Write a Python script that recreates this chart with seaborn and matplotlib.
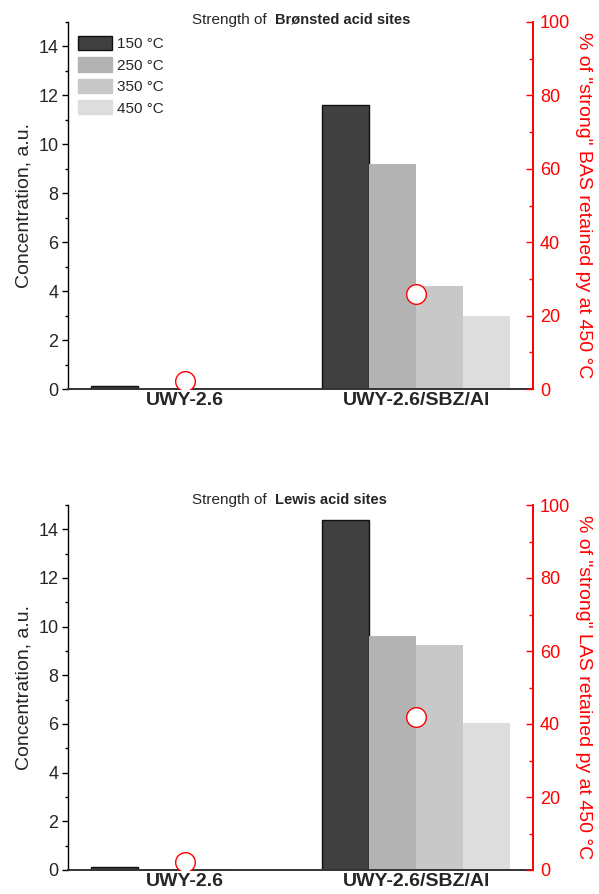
import matplotlib
matplotlib.use("Agg")
import matplotlib.pyplot as plt
from matplotlib.patches import Patch
from matplotlib.ticker import MultipleLocator
import numpy as np
import pandas as pd
import seaborn as sns

# ---- data ----
samples = ["UWY-2.6", "UWY-2.6/SBZ/Al"]
temps = ["150 °C", "250 °C", "350 °C", "450 °C"]

# Brønsted acid sites, concentration (a.u.) per desorption temperature
bas_150 = [0.12, 11.6]
bas_250 = [0.05, 9.2]
bas_350 = [0.04, 4.2]
bas_450 = [0.00, 3.0]
bas_strong_pct = [2.2, 26.0]

# Lewis acid sites, concentration (a.u.) per desorption temperature
las_150 = [0.12, 14.4]
las_250 = [0.05, 9.6]
las_350 = [0.04, 9.25]
las_450 = [0.00, 6.05]
las_strong_pct = [2.2, 42.0]

bar_colors = ["#404040", "#b3b3b3", "#c8c8c8", "#dddddd"]
red = "#ff0000"

sns.set_theme(style="white")
plt.rcParams["font.family"] = ["Liberation Sans", "DejaVu Sans"]
plt.rcParams["axes.linewidth"] = 1.0

W, H = 599, 894
fig = plt.figure(figsize=(W / 100, H / 100), dpi=100)


def rect(left, top, right, bottom):
    return [left / W, 1 - bottom / H, (right - left) / W, (bottom - top) / H]


def long_frame(series):
    rows = []
    for t, vals in zip(temps, series):
        for s, v in zip(samples, vals):
            rows.append({"sample": s, "temp": t, "conc": v})
    return pd.DataFrame(rows)


def panel(box, series, pct, site_abbr, title_bold, title_y, legend):
    ax = fig.add_axes(rect(*box))
    df = long_frame(series)
    sns.barplot(data=df, x="sample", y="conc", hue="temp", order=samples,
                hue_order=temps, palette=bar_colors, width=0.81,
                saturation=1, errorbar=None, legend=False, ax=ax,
                linewidth=0)
    # dark bars carry a thin black outline
    for p in ax.containers[0]:
        p.set_edgecolor("#111111")
        p.set_linewidth(1.0)

    ax.set_xlim(-0.505, 1.505)
    ax.set_ylim(0, 15)
    ax.yaxis.set_major_locator(MultipleLocator(2))
    ax.yaxis.set_minor_locator(MultipleLocator(1))
    ax.tick_params(axis="y", which="major", direction="out", length=4,
                   width=1, labelsize=13, pad=3, left=True, color="black")
    ax.tick_params(axis="y", which="minor", direction="out", length=2.2,
                   width=1, left=True, color="black")
    ax.tick_params(axis="x", length=0, pad=2)
    for lab in ax.get_xticklabels():
        lab.set_fontweight("bold")
        lab.set_fontsize(14)
    ax.set_xlabel("")
    ax.set_ylabel("Concentration, a.u.", fontsize=14, labelpad=4)
    ax.spines["top"].set_visible(False)
    ax.spines["right"].set_visible(False)
    ax.spines["left"].set_color("black")
    ax.spines["bottom"].set_color("#333333")
    ax.spines["bottom"].set_linewidth(1.4)

    ax2 = ax.twinx()
    sns.scatterplot(x=[0, 1], y=pct, ax=ax2, s=200, marker="o",
                    facecolor="white", edgecolor=red, linewidth=1.0,
                    zorder=5, legend=False)
    ax2.set_ylim(0, 100)
    ax2.yaxis.set_major_locator(MultipleLocator(20))
    ax2.yaxis.set_minor_locator(MultipleLocator(10))
    ax2.tick_params(axis="y", which="major", direction="in", length=5,
                    width=1, colors=red, labelsize=13, pad=5, right=True)
    ax2.tick_params(axis="y", which="minor", direction="in", length=3,
                    width=1, colors=red, right=True)
    ax2.set_ylabel(f'% of "strong" {site_abbr} retained py at 450 °C',
                   color=red, fontsize=14, rotation=270, labelpad=16)
    for side in ["top", "left", "bottom"]:
        ax2.spines[side].set_visible(False)
    ax2.spines["right"].set_color(red)
    ax2.spines["right"].set_linewidth(1.4)
    ax2.grid(False)
    ax.grid(False)

    # two-part title: regular lead-in followed by bold subject
    fig.text(192 / W, 1 - title_y / H, "Strength of", fontsize=11,
             ha="left", va="center")
    fig.text(275 / W, 1 - title_y / H, title_bold, fontsize=10.5,
             fontweight="bold", ha="left", va="center")

    if legend:
        handles = [Patch(facecolor=c, edgecolor=("#111111" if i == 0 else c),
                         linewidth=1.0)
                   for i, c in enumerate(bar_colors)]
        ax.legend(handles, temps, loc="upper left",
                  bbox_to_anchor=(10 / 465, 1 - 14 / 367), frameon=False,
                  fontsize=11, handlelength=2.2, handleheight=1.05,
                  labelspacing=0.4, handletextpad=0.35, borderpad=0,
                  borderaxespad=0)
    return ax


panel((68, 22, 533, 389), [bas_150, bas_250, bas_350, bas_450],
      bas_strong_pct, "BAS", "Brønsted acid sites", 20, True)
panel((68, 505, 533, 870), [las_150, las_250, las_350, las_450],
      las_strong_pct, "LAS", "Lewis acid sites", 500, False)

fig.savefig("out.png", dpi=100)
